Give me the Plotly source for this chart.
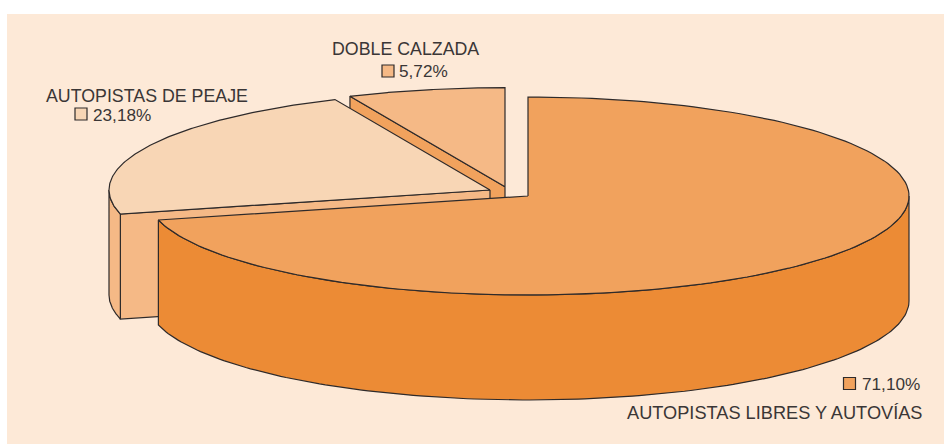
import numpy as np
import plotly.graph_objects as go

categories = ["AUTOPISTAS LIBRES Y AUTOVÍAS", "AUTOPISTAS DE PEAJE", "DOBLE CALZADA"]
value_labels = ["71,10%", "23,18%", "5,72%"]
# slice sizes as drawn in the picture (percent of the full ellipse)
drawn_share = [71.10, 22.23, 6.67]
top_colors = ["#F1A25D", "#F8D6B5", "#F5B986"]
wall_colors = ["#EC8B35", "#F5B986", "#F1A25D"]
slice_centres = [(528.0, 196.0), (490.0, 190.0), (505.0, 186.7)]

RX, RY, DEPTH = 381.0, 99.0, 105.0
PANEL = "#FDE9D7"
INK = "#2E2A2A"
TEXT = "#3A3636"

ends = np.cumsum(drawn_share) * 3.6
starts = np.concatenate([[0.0], ends[:-1]])


def rim(c, a0, a1, n=160):
    t = np.radians(np.linspace(a0, a1, n))
    return c[0] + RX * np.sin(t), c[1] - RY * np.cos(t)


fig = go.Figure()


def poly(x, y, color):
    fig.add_trace(go.Scatter(
        x=list(x), y=list(y), mode="lines", fill="toself", fillcolor=color,
        line=dict(color=INK, width=1.2), hoverinfo="skip", showlegend=False))


def radial_wall(c, a, color):
    x, y = rim(c, a, a, 1)
    poly([c[0], x[0], x[0], c[0], c[0]],
         [c[1], y[0], y[0] + DEPTH, c[1] + DEPTH, c[1]], color)


def outer_wall(c, a0, a1, color):
    x, y = rim(c, a0, a1)
    poly(np.r_[x, x[::-1], x[0]], np.r_[y, y[::-1] + DEPTH, y[0]], color)


def top(c, a0, a1, color):
    x, y = rim(c, a0, a1)
    poly(np.r_[c[0], x, c[0]], np.r_[c[1], y, c[1]], color)


# back slice first, front slice last
radial_wall(slice_centres[2], starts[2], wall_colors[2])
top(slice_centres[2], starts[2], ends[2], top_colors[2])

radial_wall(slice_centres[1], starts[1], wall_colors[1])
outer_wall(slice_centres[1], starts[1], 270.0, wall_colors[1])
top(slice_centres[1], starts[1], ends[1], top_colors[1])

outer_wall(slice_centres[0], 90.0, ends[0], wall_colors[0])
top(slice_centres[0], starts[0], ends[0], top_colors[0])

# legend keys
key_x = [849.5, 81.0, 388.0]
key_y = [383.5, 114.0, 71.0]
fig.add_trace(go.Scatter(
    x=key_x, y=key_y, mode="markers", hoverinfo="skip", showlegend=False,
    marker=dict(symbol="square", size=12, color=top_colors,
                line=dict(color=INK, width=1.2))))

FAMILY = "Liberation Sans, Arial, sans-serif"
name_sizes = [18.2, 17.8, 17.8]
val_font = dict(family=FAMILY, size=17.2, color=TEXT)
name_pos = [(625, 413), (44, 96), (330, 49)]
val_pos = [(860, 384), (91, 115), (397, 71)]
ann = []
for name, val, size, np_, vp in zip(categories, value_labels, name_sizes, name_pos, val_pos):
    ann.append(dict(x=np_[0], y=np_[1], text=name, showarrow=False, xanchor="left",
                    yanchor="middle", font=dict(family=FAMILY, size=size, color=TEXT),
                    xref="x", yref="y"))
    ann.append(dict(x=vp[0], y=vp[1], text=val, showarrow=False, xanchor="left",
                    yanchor="middle", font=val_font, xref="x", yref="y"))

fig.update_layout(
    width=944, height=444, autosize=False,
    margin=dict(l=7, r=0, t=14, b=0, pad=0),
    paper_bgcolor="white", plot_bgcolor=PANEL, annotations=ann,
    xaxis=dict(range=[7, 944], visible=False, fixedrange=True),
    yaxis=dict(range=[444, 14], visible=False, fixedrange=True),
)
fig.write_html("out.html", config=dict(displayModeBar=False),
               post_script="document.body.style.margin='0';document.documentElement.style.overflow='hidden';")
